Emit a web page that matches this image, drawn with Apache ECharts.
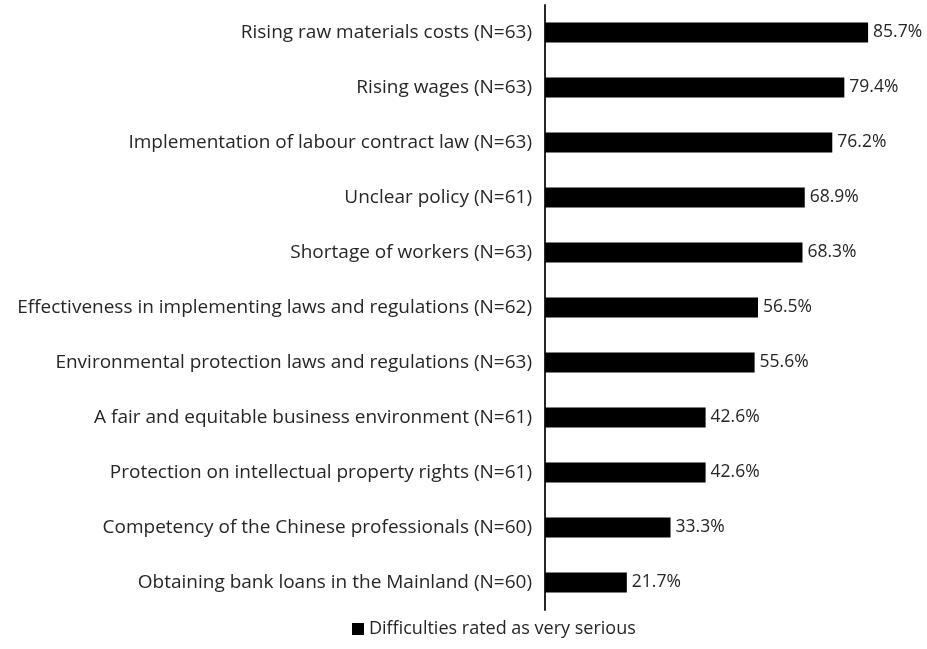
<!DOCTYPE html>
<html>
<head>
<meta charset="utf-8">
<script src="https://cdn.jsdelivr.net/npm/echarts@6/dist/echarts.min.js"></script>
<style>
  html, body { margin: 0; padding: 0; background: #fff; }
  #chart { width: 927px; height: 649px; }
</style>
</head>
<body>
<div id="chart"></div>
<script>
// 类目（从上到下）
const categories = [
  "Rising raw materials costs (N=63)",
  "Rising wages (N=63)",
  "Implementation of labour contract law (N=63)",
  "Unclear policy (N=61)",
  "Shortage of workers (N=63)",
  "Effectiveness in implementing laws and regulations (N=62)",
  "Environmental protection laws and regulations (N=63)",
  "A fair and equitable business environment (N=61)",
  "Protection on intellectual property rights (N=61)",
  "Competency of the Chinese professionals (N=60)",
  "Obtaining bank loans in the Mainland (N=60)"
];
const verySerious = [85.7, 79.4, 76.2, 68.9, 68.3, 56.5, 55.6, 42.6, 42.6, 33.3, 21.7];
const seriesName = "Difficulties rated as very serious";

const font = "Open Sans";

let myChart = echarts.init(document.getElementById("chart"));
myChart.setOption({
  animation: false,
  textStyle: { fontFamily: font },
  legend: {
    data: [seriesName],
    bottom: 6,
    left: 347,
    icon: "rect",
    itemWidth: 12,
    itemHeight: 12,
    itemGap: 6,
    textStyle: { color: "#262626", fontSize: 18, fontFamily: font }
  },
  grid: {
    left: 545,
    top: 5,
    width: 377,
    height: 605
  },
  xAxis: {
    type: "value",
    min: 0,
    max: 100,
    show: false
  },
  yAxis: {
    type: "category",
    inverse: true,
    data: categories,
    axisLine: { lineStyle: { color: "#262626", width: 2 } },
    axisTick: { show: false },
    axisLabel: { color: "#262626", fontSize: 19, margin: 13, fontFamily: font }
  },
  series: [
    {
      name: seriesName,
      type: "bar",
      data: verySerious,
      barWidth: 20,
      itemStyle: { color: "#000" },
      label: {
        show: true,
        position: "right",
        distance: 5,
        color: "#262626",
        fontSize: 17.5,
        fontFamily: font,
        formatter: (p) => p.value.toFixed(1) + "%"
      }
    }
  ]
});
</script>
</body>
</html>
